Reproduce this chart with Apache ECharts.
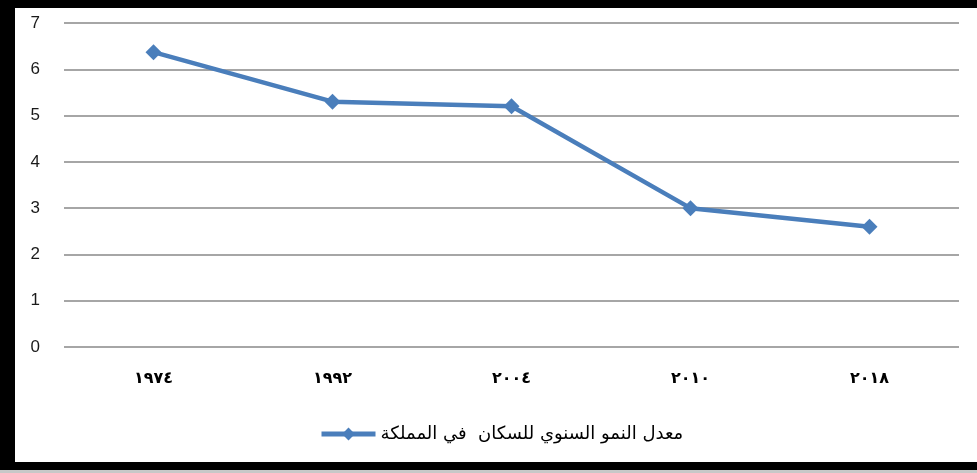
<!DOCTYPE html>
<html>
<head>
<meta charset="utf-8">
<script src="https://cdn.jsdelivr.net/npm/echarts@6/dist/echarts.min.js"></script>
<style>
html,body{margin:0;padding:0;background:#fff;}
#chart{width:977px;height:473px;}
</style>
</head>
<body>
<div id="chart"></div>
<script>
const categories = ['١٩٧٤', '١٩٩٢', '٢٠٠٤', '٢٠١٠', '٢٠١٨'];
const growthRate = [6.37, 5.3, 5.2, 3.0, 2.6];
const seriesName = 'معدل النمو السنوي للسكان  في المملكة';
const yTicks = [0, 1, 2, 3, 4, 5, 6, 7];

const chart = echarts.init(document.getElementById('chart'), null, {renderer: 'canvas'});
chart.setOption({
  animation: false,
  backgroundColor: '#ffffff',
  graphic: [
    {type: 'rect', shape: {x: 0, y: 0, width: 977, height: 8}, style: {fill: '#000'}, silent: true},
    {type: 'rect', shape: {x: 0, y: 0, width: 15, height: 470}, style: {fill: '#000'}, silent: true},
    {type: 'rect', shape: {x: 0, y: 462, width: 977, height: 8}, style: {fill: '#000'}, silent: true},
    {type: 'rect', shape: {x: 0, y: 470, width: 977, height: 3}, style: {fill: '#c8c8c8'}, silent: true}
  ],
  grid: {left: 64, right: 18, top: 23, bottom: 126, containLabel: false},
  legend: {
    data: [seriesName],
    left: 314,
    top: 420,
    itemWidth: 54,
    itemHeight: 16,
    itemGap: 4,
    lineStyle: {width: 5},
    textStyle: {fontFamily: 'DejaVu Sans', fontSize: 18, color: '#000'}
  },
  xAxis: {
    type: 'category',
    data: categories,
    boundaryGap: true,
    axisLine: {show: false},
    axisTick: {show: false},
    axisLabel: {margin: 24, fontFamily: 'DejaVu Sans', fontWeight: 'bold', fontSize: 16, color: '#000'}
  },
  yAxis: {
    type: 'value',
    min: yTicks[0],
    max: yTicks[yTicks.length - 1],
    interval: 1,
    axisLine: {show: false},
    axisTick: {show: false},
    axisLabel: {margin: 24, fontFamily: 'Liberation Sans', fontSize: 17, color: '#1a1a1a', padding: [3, 0, 0, 0]},
    splitLine: {lineStyle: {color: '#a6a6a6', width: 2}}
  },
  series: [{
    name: seriesName,
    type: 'line',
    data: growthRate,
    symbol: 'diamond',
    symbolSize: 16,
    lineStyle: {color: '#4a7ebb', width: 4.5},
    itemStyle: {color: '#4a7ebb'}
  }]
});
</script>
</body>
</html>
